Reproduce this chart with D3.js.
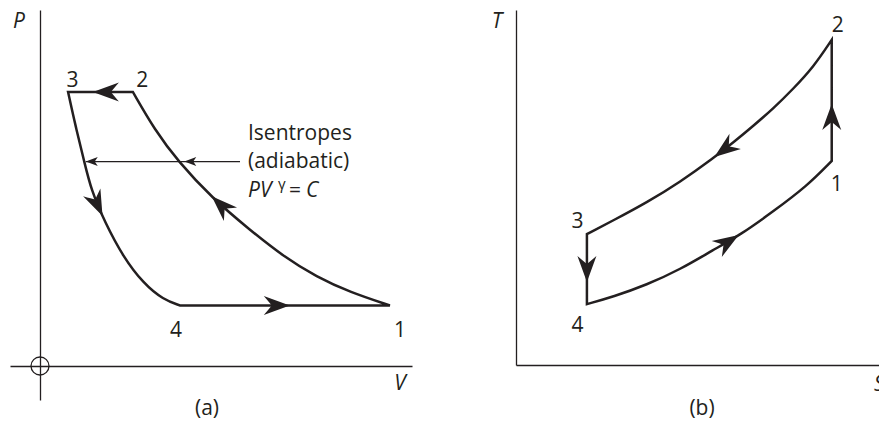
<!DOCTYPE html>
<html>
<head>
<meta charset="utf-8">
<script src="https://cdn.jsdelivr.net/npm/d3@7"></script>
<style>
  html, body { margin: 0; padding: 0; background: #fff; }
  svg { display: block; font-family: "Open Sans", "DejaVu Sans", sans-serif; }
</style>
</head>
<body>
<svg id="chart" width="879" height="424"></svg>
<script>
// Reversed Brayton (gas refrigeration) cycle, states 1..4
const stateIds = ["1", "2", "3", "4"];

// (a) P–V diagram: state volumes and pressures
const pvVolume   = [9.72, 2.58, 0.78, 3.89];
const pvPressure = [1.73, 7.83, 7.83, 1.73];

// (b) T–s diagram: state entropies and temperatures
const tsEntropy     = [8.77, 8.77, 1.97, 1.97];
const tsTemperature = [5.83, 9.29, 3.74, 1.74];

// Interior points of each process, [V, P] — isentropic compression 1→2, expansion 3→4
const pvCompression12 = [[8.61, 2.11], [7.69, 2.54], [6.75, 3.14], [5.83, 3.89], [4.78, 4.80], [3.84, 5.84], [3.19, 6.74]];
const pvExpansion34   = [[0.99, 6.84], [1.23, 5.84], [1.42, 5.03], [1.81, 4.09], [2.31, 3.12], [2.87, 2.36], [3.43, 1.89]];

// Interior points of each process, [s, T] — constant-pressure cooling 2→3, heating 4→1
const tsCooling23 = [[8.26, 8.51], [7.70, 7.89], [7.15, 7.33], [6.59, 6.83], [6.04, 6.36], [5.48, 5.91], [4.56, 5.23], [3.63, 4.64], [2.70, 4.13]];
const tsHeating41 = [[2.70, 1.95], [3.63, 2.29], [4.56, 2.73], [5.48, 3.29], [6.22, 3.71], [7.15, 4.39], [8.08, 5.11]];

// Where each flow-direction arrowhead points to (processes 1→2, 2→3, 3→4, 4→1)
const pvArrowTips = [[4.78, 4.86], [1.47, 7.83], [1.71, 4.27], [6.94, 1.73]];
const tsArrowTips = [[8.77, 7.46], [5.53, 5.91], [1.97, 2.37], [6.22, 3.66]];

// Note on the isentropes
const noteLines = ["Isentropes", "(adiabatic)"];
const noteLevel = 5.84;   // pressure at which the leader crosses both isentropes

const ink = "#231f20";
const svg = d3.select("#chart");

// Filled arrowhead with a hollowed back, tip at the origin, pointing along +x
const headShape = "M0,0 L-26,-9.5 Q-20,-2.5 -18,0 Q-20,2.5 -26,9.5 Z";
const smallHead = "M0,0 L-12,-4.5 L-9,0 L-12,4.5 Z";

const line = d3.line().curve(d3.curveBasis);

function sampler(node) {
  const L = node.getTotalLength();
  const pts = [];
  for (let l = 0; l <= L; l += 0.25) {
    const p = node.getPointAtLength(l);
    pts.push({ l, x: p.x, y: p.y });
  }
  return { node, L, pts };
}
function nearest(s, px, py) {
  let best = null, bd = Infinity;
  for (const p of s.pts) {
    const d = (p.x - px) ** 2 + (p.y - py) ** 2;
    if (d < bd) { bd = d; best = p; }
  }
  return best;
}
function atLevel(s, py) {
  let best = null, bd = Infinity;
  for (const p of s.pts) {
    const d = Math.abs(p.y - py);
    if (d < bd) { bd = d; best = p; }
  }
  return best;
}
function heading(s, l) {
  const a = s.node.getPointAtLength(Math.max(0, l - 3));
  const b = s.node.getPointAtLength(Math.min(s.L, l + 3));
  return Math.atan2(b.y - a.y, b.x - a.x) * 180 / Math.PI;
}

function drawCycle(g, x, y, xs, ys, interiors, tips, labelOffsets) {
  const P = xs.map((v, i) => [x(v), y(ys[i])]);
  const segs = P.map((p, i) => [p, ...interiors[i].map(d => [x(d[0]), y(d[1])]), P[(i + 1) % 4]]);

  // one closed outline so the corners meet with a clean mitre
  const d = segs.map((s, i) => {
    const str = line(s);
    return i === 0 ? str : str.replace(/^M[^A-Za-z]*/, "");
  }).join("") + "Z";
  g.append("path")
    .attr("d", d)
    .attr("fill", "none")
    .attr("stroke", ink)
    .attr("stroke-width", 2.5)
    .attr("stroke-linejoin", "miter");

  // invisible copies of each process, used to place the arrowheads
  const probes = segs.map(s => sampler(
    g.append("path").attr("d", line(s)).attr("fill", "none").attr("stroke", "none").node()
  ));

  tips.forEach((t, i) => {
    const s = probes[i];
    const p = nearest(s, x(t[0]), y(t[1]));
    g.append("path")
      .attr("d", headShape)
      .attr("fill", ink)
      .attr("transform", `translate(${p.x},${p.y}) rotate(${heading(s, p.l)})`);
  });

  g.selectAll("text.state")
    .data(stateIds)
    .join("text")
    .attr("class", "state")
    .attr("x", (d, i) => P[i][0] + labelOffsets[i][0])
    .attr("y", (d, i) => P[i][1] + labelOffsets[i][1])
    .attr("text-anchor", "middle")
    .attr("font-size", 21)
    .attr("fill", ink)
    .text(d => d);

  return probes;
}

function styleAxis(sel) {
  sel.select(".domain").attr("stroke", ink).attr("stroke-width", 1.3);
}

// ---------- (a) P–V ----------
const xA = d3.scaleLinear().domain([-0.8333, 10.3333]).range([10, 412]);
const yA = d3.scaleLinear().domain([-0.9714, 10.1714]).range([400, 10]);
const gA = svg.append("g");

gA.append("g")
  .attr("transform", `translate(0,${yA(0)})`)
  .call(d3.axisBottom(xA).tickValues([]).tickSizeOuter(0))
  .call(styleAxis);
gA.append("g")
  .attr("transform", `translate(${xA(0)},0)`)
  .call(d3.axisLeft(yA).tickValues([]).tickSizeOuter(0))
  .call(styleAxis);
gA.append("circle")
  .attr("cx", xA(0)).attr("cy", yA(0)).attr("r", 9)
  .attr("fill", "none").attr("stroke", ink).attr("stroke-width", 1.3);

const pvProbes = drawCycle(gA, xA, yA, pvVolume, pvPressure,
  [pvCompression12, [], pvExpansion34, []], pvArrowTips,
  [[10, 31.5], [9.5, -5], [4.5, -5], [-4, 31.5]]);

gA.append("text").attr("x", xA(0) - 21).attr("y", 28)
  .attr("text-anchor", "middle").attr("font-size", 21).attr("font-style", "italic").attr("fill", ink).text("P");
gA.append("text").attr("x", 400).attr("y", yA(0) + 24)
  .attr("text-anchor", "middle").attr("font-size", 21).attr("font-style", "italic").attr("fill", ink).text("V");
gA.append("text").attr("x", 207).attr("y", 415)
  .attr("text-anchor", "middle").attr("font-size", 21).attr("fill", ink).text("(a)");

// leader from the note to both isentropes
const noteY = yA(noteLevel);
const noteX = 248;
const leftTip = atLevel(pvProbes[2], noteY).x + 1.5;
const midTip  = atLevel(pvProbes[0], noteY).x + 5;
gA.append("line")
  .attr("x1", leftTip).attr("x2", noteX - 8)
  .attr("y1", noteY).attr("y2", noteY)
  .attr("stroke", ink).attr("stroke-width", 1.1);
[leftTip, midTip].forEach(tx => {
  gA.append("path").attr("d", smallHead).attr("fill", ink)
    .attr("transform", `translate(${tx},${noteY}) rotate(180)`);
});

const note = gA.append("g").attr("font-size", 21).attr("fill", ink);
noteLines.forEach((t, i) => {
  note.append("text").attr("x", noteX).attr("y", noteY - 22 + i * 28.7).text(t);
});
const eq = note.append("text").attr("y", noteY - 22 + 2 * 28.7);
eq.append("tspan").attr("x", noteX).attr("font-style", "italic").text("PV");
eq.append("tspan").attr("x", 278).attr("dy", -8).attr("font-size", 15).text("γ");
eq.append("tspan").attr("x", 289).attr("dy", 8).text("=");
eq.append("tspan").attr("x", 306).attr("font-style", "italic").text("C");

// ---------- (b) T–s ----------
const xB = d3.scaleLinear().domain([0, 10.0833]).range([516, 879]);
const yB = d3.scaleLinear().domain([0, 10.1428]).range([365, 10]);
const gB = svg.append("g");

gB.append("g")
  .attr("transform", `translate(0,${yB(0)})`)
  .call(d3.axisBottom(xB).tickValues([]).tickSizeOuter(0))
  .call(styleAxis);
gB.append("g")
  .attr("transform", `translate(${xB(0)},0)`)
  .call(d3.axisLeft(yB).tickValues([]).tickSizeOuter(0))
  .call(styleAxis);

drawCycle(gB, xB, yB, tsEntropy, tsTemperature,
  [[], tsCooling23, [], tsHeating41], tsArrowTips,
  [[5, 30], [6, -8], [-9.5, -6], [-9.5, 28]]);

gB.append("text").attr("x", xB(0) - 19).attr("y", 28)
  .attr("text-anchor", "middle").attr("font-size", 21).attr("font-style", "italic").attr("fill", ink).text("T");
gB.append("text").attr("x", 874).attr("y", yB(0) + 26)
  .attr("font-size", 21).attr("font-style", "italic").attr("fill", ink).text("S");
gB.append("text").attr("x", 702).attr("y", 415)
  .attr("text-anchor", "middle").attr("font-size", 21).attr("fill", ink).text("(b)");
</script>
</body>
</html>
